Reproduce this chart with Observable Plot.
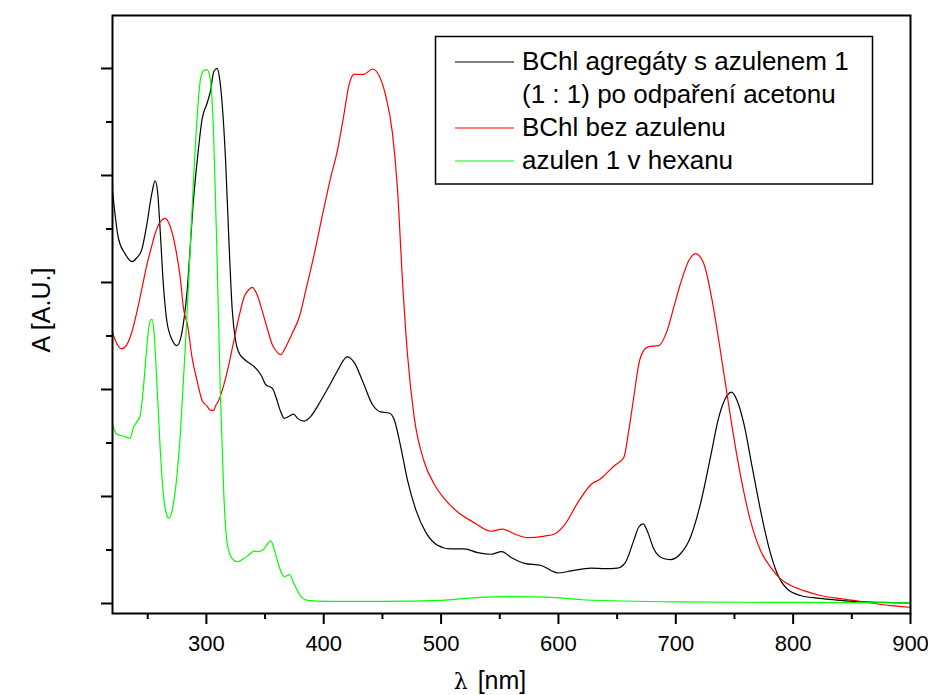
<!DOCTYPE html>
<html>
<head>
<meta charset="utf-8">
<script src="https://cdn.jsdelivr.net/npm/d3@7"></script>
<script src="https://cdn.jsdelivr.net/npm/@observablehq/plot@0.6"></script>
<style>
  html, body { margin: 0; padding: 0; background: #fff; }
  #chart { position: relative; width: 928px; height: 695px; }
</style>
</head>
<body>
<div id="chart"></div>
<script>
// ---- data (wavelength in nm, absorbance in arbitrary units) ----
const seriesNames = ["BChl agregáty s azulenem 1|(1 : 1) po odpaření acetonu", "BChl bez azulenu", "azulen 1 v hexanu"];
const seriesColors = ["#000000", "#ff0000", "#00ff00"];

const blackNm = [220,225,230.6,236.9,240.6,244.9,249,253.4,256.3,258.3,260.6,263.4,266.3,270.6,274.9,279.1,283.4,289.1,293.4,296.3,300.6,303.4,306.3,309.1,311.4,313.4,316.3,319.1,322,324.9,327.7,332,334.9,340.6,346.3,350.6,356.3,359.1,363.4,366.3,370.6,374.3,377.7,383.4,389.1,397.7,406,411.5,420,425.8,432.9,441.5,448.6,455.7,460,465.7,471.4,478.5,487,497,508.4,519.8,531.2,542.6,551.7,559.7,571.1,585.3,599.6,611,628,640,650,657.1,664.2,668.5,672.2,675.6,681.3,688.4,695.5,704,712.5,721,729.5,736.6,743.8,747.4,752.3,758,765.1,772.2,779.3,786.4,795,806.3,820.5,834.7,851.7,877.3,900];
const blackA = [7.72,6.83,6.54,6.39,6.46,6.61,7.05,7.65,7.90,7.72,6.98,5.94,5.28,4.94,4.82,5.06,5.80,7.57,8.53,9.05,9.35,9.57,9.94,10.0,9.79,9.35,8.31,6.83,5.50,4.91,4.69,4.57,4.52,4.43,4.28,4.09,4.02,3.87,3.58,3.46,3.50,3.54,3.46,3.41,3.50,3.80,4.12,4.34,4.61,4.51,4.17,3.72,3.58,3.56,3.44,2.92,2.30,1.75,1.33,1.09,1.02,1.02,0.95,0.92,0.97,0.86,0.75,0.71,0.57,0.61,0.66,0.65,0.66,0.77,1.18,1.43,1.49,1.36,1.02,0.85,0.82,0.93,1.24,1.86,2.73,3.48,3.89,3.95,3.79,3.36,2.55,1.74,1.05,0.56,0.27,0.15,0.10,0.07,0.04,0.02,0.01];

const redNm = [220,223.4,227.7,232,236.3,240.6,244.9,249.1,253.4,256.3,260.6,264.9,269.1,273.4,277.7,280.6,284,287.7,292,296.3,300.6,303,306.3,308,310.6,314.9,319.1,323.4,327.7,332,336.3,339.1,343.4,347.7,352,356.3,360.6,363.4,367.7,373.4,379.1,384.9,392,399.1,406,411.5,417.2,421.5,425.8,434.3,441.5,447.1,452.8,458.5,462.8,467.1,471.4,477.1,485.6,494.2,502.7,514.1,528.3,542.6,552.6,562.5,573.9,588.2,596.7,605.2,616.6,628,636,639.4,647.9,655.7,659.9,664.2,668.5,672.7,677,685.5,692.6,698.3,704,711.1,716.8,723.9,731,736.6,742.3,749.4,756.5,763.6,772.2,780.7,789.2,797.7,809.1,823.3,840.3,863.1,883,900];
const redA = [5.06,4.87,4.76,4.83,5.06,5.43,5.87,6.31,6.68,6.91,7.13,7.20,7.05,6.68,6.09,5.50,5.20,4.61,4.17,3.80,3.69,3.62,3.61,3.70,3.80,4.09,4.46,4.91,5.35,5.72,5.87,5.91,5.76,5.46,5.13,4.83,4.69,4.65,4.80,5.06,5.35,5.87,6.54,7.28,7.97,8.45,9.14,9.69,9.89,9.89,9.99,9.87,9.49,8.80,7.76,6.03,4.65,3.48,2.65,2.23,1.96,1.71,1.51,1.35,1.39,1.30,1.23,1.26,1.30,1.47,1.89,2.23,2.33,2.40,2.58,2.73,3.23,3.86,4.48,4.73,4.80,4.82,5.10,5.54,5.98,6.41,6.54,6.35,5.66,4.92,4.11,3.11,2.24,1.55,0.99,0.68,0.46,0.34,0.24,0.15,0.09,0.02,-0.04,-0.07];

const greenNm = [220,223.4,229.1,234.9,237.7,240.6,243.4,246.3,249.1,252,253.7,255.4,257.7,260.6,263.4,266.3,267.7,270.6,274.9,277.7,280.6,283.4,286.3,289.1,292,294.9,297.7,300.6,303.4,306.3,309.1,312,314.9,317.7,322,326.3,332,336.3,340.6,344.9,349.1,352.6,354.9,357.7,362,366.3,370.6,374.9,380.6,386.3,403.4,450,500,530,560,590,620,700,800,900];
const greenA = [3.34,3.17,3.13,3.09,3.28,3.39,3.50,4.02,4.76,5.28,5.31,5.06,4.17,2.91,2.02,1.65,1.59,1.72,2.39,3.13,4.24,5.35,6.68,7.94,9.05,9.79,9.96,9.98,9.79,8.68,6.46,3.87,2.02,1.13,0.84,0.78,0.84,0.91,0.98,0.97,1.02,1.13,1.17,1.02,0.69,0.50,0.54,0.36,0.13,0.06,0.04,0.04,0.06,0.11,0.13,0.12,0.07,0.03,0.02,0.01];

const xTicks = [300, 400, 500, 600, 700, 800, 900];
const xMinorTicks = [250, 350, 450, 550, 650, 750, 850];
const yMajorTicks = [0, 2, 4, 6, 8, 10];
const yMinorTicks = [1, 3, 5, 7, 9];
const xTitle = "[nm]";
const xTitleSymbol = "λ";
const yTitle = "A [A.U.]";

// ---- build table ----
const seriesData = [[blackNm, blackA], [redNm, redA], [greenNm, greenA]];
const rows = seriesData.flatMap(([nm, a], k) => nm.map((x, i) => ({x, y: a[i], s: seriesNames[k]})));

const font = "'Liberation Sans', Arial, sans-serif";

const chart = Plot.plot({
  width: 928,
  height: 695,
  marginLeft: 112,
  marginRight: 18,
  marginTop: 15,
  marginBottom: 82,
  style: {fontFamily: font, color: "black", background: "white", overflow: "visible"},
  x: {domain: [220, 900]},
  y: {domain: [-0.187, 10.99]},
  color: {domain: seriesNames, range: seriesColors},
  marks: [
    Plot.line(rows, {x: "x", y: "y", z: "s", stroke: "s", strokeWidth: 1.2, curve: "monotone-x"}),
    Plot.axisX({ticks: xTicks, tickSize: 11, tickPadding: 11, fontSize: 22, strokeWidth: 2, label: null, tickFormat: d3.format("d")}),
    Plot.axisX({ticks: xMinorTicks, tickSize: 6, strokeWidth: 2, label: null, tickFormat: () => ""}),
    Plot.axisY({ticks: yMajorTicks, tickSize: 11, strokeWidth: 2, label: null, tickFormat: () => ""}),
    Plot.axisY({ticks: yMinorTicks, tickSize: 6, strokeWidth: 2, label: null, tickFormat: () => ""}),
    Plot.frame({stroke: "black", strokeWidth: 2})
  ]
});

document.getElementById("chart").appendChild(chart);

// ---- axis titles and legend ----
const svg = d3.select(chart);

const xt = svg.append("text")
  .attr("x", 490).attr("y", 689)
  .attr("text-anchor", "middle")
  .attr("font-family", font).attr("font-size", 25).attr("fill", "black");
xt.append("tspan").attr("font-family", "'DejaVu Serif', serif").attr("font-size", 22).text(xTitleSymbol);
xt.append("tspan").attr("dx", 10).text(xTitle);

svg.append("text")
  .attr("transform", "translate(50,310) rotate(-90)")
  .attr("text-anchor", "middle")
  .attr("font-family", font).attr("font-size", 25).attr("fill", "black")
  .text(yTitle);

const lg = svg.append("g").attr("text-anchor", "start");
lg.append("rect")
  .attr("x", 435.5).attr("y", 36.5).attr("width", 437).attr("height", 147.5)
  .attr("fill", "white").attr("stroke", "black").attr("stroke-width", 1.5);

const legendLineY = [62, 128, 161];
const legendTextLines = [
  [seriesNames[0].split("|")[0], 70],
  [seriesNames[0].split("|")[1], 102.5],
  [seriesNames[1], 135.5],
  [seriesNames[2], 168.5]
];
seriesColors.forEach((c, i) => {
  lg.append("line")
    .attr("x1", 455).attr("x2", 514)
    .attr("y1", legendLineY[i]).attr("y2", legendLineY[i])
    .attr("stroke", c).attr("stroke-width", 1.2);
});
legendTextLines.forEach(([t, y]) => {
  lg.append("text")
    .attr("x", 522).attr("y", y)
    .attr("text-anchor", "start")
    .attr("font-family", font).attr("font-size", 26).attr("fill", "black")
    .text(t);
});
</script>
</body>
</html>
